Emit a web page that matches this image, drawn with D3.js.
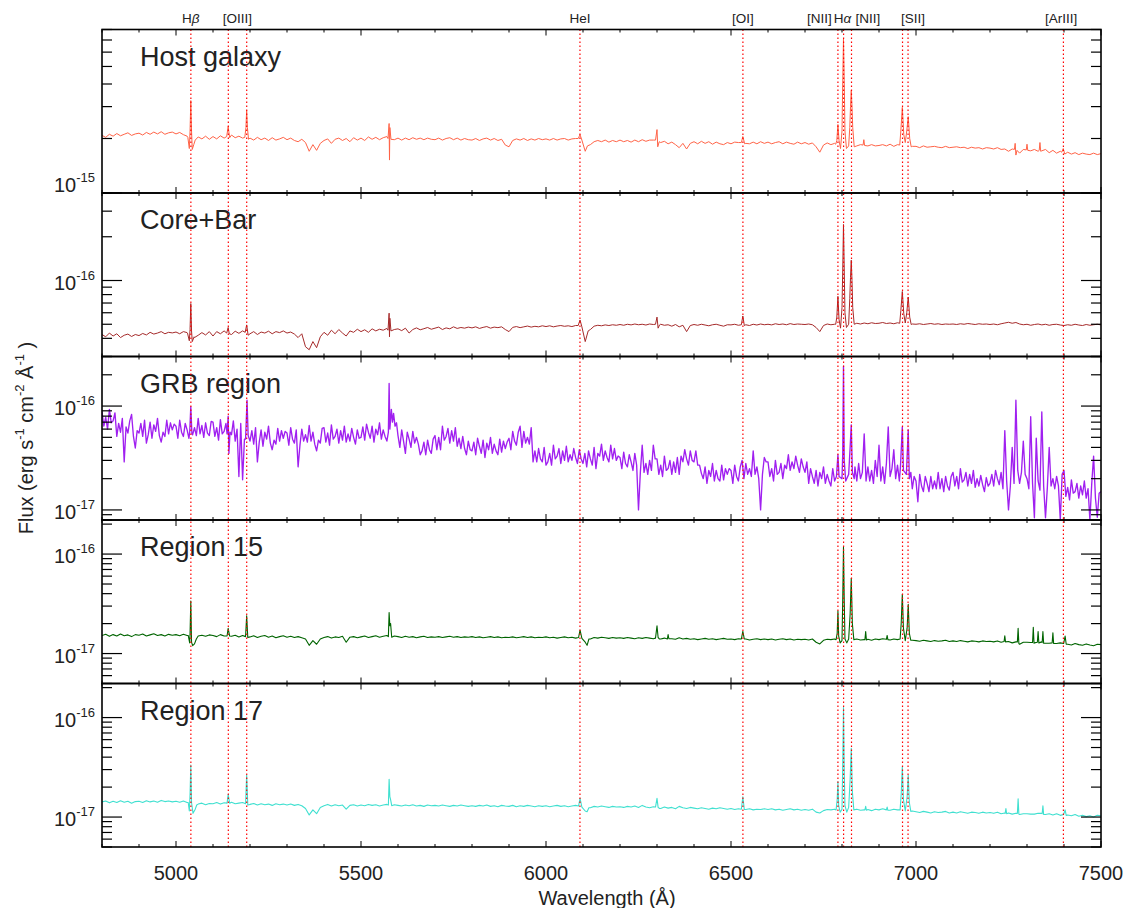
<!DOCTYPE html>
<html><head><meta charset="utf-8">
<script src="https://cdn.jsdelivr.net/npm/d3@7"></script>
<style>
body{margin:0;background:#fff}
svg{display:block}
text{font-family:"Liberation Sans",Arial,Helvetica,sans-serif;fill:#222}
</style>
</head><body>
<svg id="chart" width="1126" height="908"></svg>
<script>
// ---------------- DATA ----------------
// Host galaxy, flux in 1e-15 erg/s/cm2/A, sampled every 10 A from 4800 A
const hostFlux = [
2.08,2.03,2.11,2.06,2.13,2.07,2.11,2.15,2.08,2.12, //4800
2.14,2.09,2.16,2.11,2.17,2.12,2.18,2.11,2.15,2.17, //4900
2.12,2.16,2.10,2.06,2.00,1.95,2.04,1.99,2.06,1.98, //5000
2.05,1.99,2.07,2.01,2.06,2.09,2.02,2.06,2.01,2.04, //5100
2.01,1.96,2.03,1.97,2.01,1.95,2.02,1.96,1.99,2.03, //5200
1.97,2.01,1.95,1.92,1.98,1.90,1.70,1.85,1.72,1.88, //5300
1.95,1.99,1.88,1.98,2.01,1.95,2.00,1.92,2.02,1.96, //5400
2.01,1.95,2.04,1.98,2.03,1.97,2.02,2.05,1.99,1.97, //5500
2.01,1.96,2.01,1.97,2.02,1.98,2.01,1.97,2.01,1.98, //5600
1.97,2.01,1.96,2.00,2.02,1.97,2.01,1.96,2.00,1.97, //5700
1.96,2.00,1.95,1.99,2.01,1.96,2.00,1.95,1.98,1.84, //5800
1.80,1.95,1.99,1.96,2.00,1.95,1.99,1.96,2.00,1.97, //5900
1.99,1.96,2.00,1.96,1.99,2.00,1.96,1.99,2.00,2.04, //6000
1.95,1.75,1.85,1.92,1.95,1.92,1.96,1.91,1.95,1.92, //6100
1.96,1.92,1.95,1.91,1.96,1.92,1.97,1.93,1.96,1.96, //6200
1.94,1.90,1.93,1.87,1.91,1.85,1.78,1.88,1.75,1.88, //6300
1.92,1.87,1.93,1.88,1.92,1.86,1.91,1.87,1.85,1.90, //6400
1.87,1.91,1.90,1.93,1.88,1.87,1.91,1.87,1.92,1.88, //6500
1.91,1.87,1.90,1.92,1.87,1.91,1.88,1.86,1.91,1.87, //6600
1.90,1.86,1.89,1.80,1.68,1.84,1.89,1.85,1.88,1.86, //6700
1.85,1.85,1.85,1.85,1.82,1.85,1.84,1.82,1.85,1.82, //6800
1.83,1.85,1.82,1.86,1.81,1.85,1.83,1.82,1.84,1.81, //6900
1.81,1.78,1.82,1.79,1.80,1.81,1.79,1.78,1.81,1.78, //7000
1.79,1.80,1.78,1.79,1.76,1.79,1.77,1.78,1.75,1.78, //7100
1.77,1.75,1.78,1.74,1.75,1.70,1.75,1.73,1.66,1.74, //7200
1.73,1.71,1.74,1.70,1.71,1.74,1.67,1.72,1.66,1.70, //7300
1.66,1.68,1.64,1.67,1.63,1.66,1.64,1.63,1.66,1.63, //7400
1.65];
const hostLines = [
[[5032,2.03],[5036,1.76],[5038,2.2],[5040,3.24],[5042,2.2],[5044,1.74],[5048,1.85],[5052,1.96]],
[[5137,2.05],[5141,2.33],[5145,2.02]],
[[5186,2.03],[5189,2.3],[5191,2.86],[5193,2.3],[5196,1.98]],
[[5573,2.00],[5576,2.42],[5577,1.52],[5578,2.30],[5581,1.98]],
[[6087,2.00],[6092,2.10],[6097,1.96],[6106,1.70],[6112,1.82]],
[[6296,1.96],[6300,2.24],[6302,1.80],[6306,1.92]],
[[6528,1.90],[6532,2.05],[6537,1.87]],
[[6783,1.86],[6786,1.95],[6789,2.39],[6792,1.95],[6796,1.76],[6800,2.2],[6802,4.2],[6804,7.08],[6806,4.2],[6808,2.2],[6812,1.76],[6818,1.82],[6821,2.3],[6823,3.0],[6825,3.69],[6827,3.0],[6829,2.3],[6833,1.80]],
[[6857,1.84],[6859,1.97],[6861,1.83]],
[[6956,1.84],[6959,2.2],[6963,2.97],[6967,2.1],[6971,1.9],[6975,2.2],[6979,2.64],[6983,2.0],[6987,1.80]],
[[7266,1.74],[7268,1.88],[7270,1.62],[7273,1.72]],
[[7298,1.73],[7300,1.86],[7302,1.72]],
[[7333,1.72],[7335,1.90],[7337,1.70]],
[[7394,1.68],[7398,1.76],[7402,1.64]]
];

// Core+Bar, flux in 1e-17, every 10 A
const coreFlux = [
4.25,4.10,4.35,4.15,4.30,4.05,4.20,4.28,4.12,4.25, //4800
4.18,4.32,4.22,4.40,4.28,4.35,4.45,4.30,4.40,4.36, //4900
4.42,4.30,4.45,4.38,4.30,4.05,4.20,4.38,4.22,4.45, //5000
4.15,4.45,4.30,4.50,4.38,4.25,4.48,4.33,4.50,4.40, //5100
4.30,4.45,4.25,4.42,4.35,4.48,4.30,4.45,4.38,4.50, //5200
4.35,4.42,4.28,4.05,4.30,3.50,3.34,3.80,3.45,4.10, //5300
4.40,4.20,4.55,4.30,4.60,4.35,4.15,4.50,4.40,4.62, //5400
4.45,4.58,4.40,4.65,4.50,4.62,4.55,4.68,4.50,4.60, //5500
4.65,4.52,4.70,4.35,4.60,4.72,4.58,4.66,4.75,4.62, //5600
4.70,4.78,4.60,4.72,4.65,4.80,4.68,4.75,4.70,4.78, //5700
4.72,4.80,4.68,4.76,4.82,4.70,4.78,4.74,4.80,4.60, //5800
4.45,4.76,4.82,4.74,4.80,4.86,4.78,4.84,4.80,4.88, //5900
4.82,4.88,4.80,4.86,4.90,4.84,4.88,4.82,4.90,4.95, //6000
4.90,4.00,4.60,4.85,4.92,4.88,4.95,4.90,4.96,4.92, //6100
4.98,4.92,5.00,4.95,5.02,4.96,5.00,4.94,5.02,4.98, //6200
4.98,5.00,4.92,4.96,4.85,4.98,4.80,4.92,4.45,4.90, //6300
4.98,4.92,5.00,4.94,4.88,4.96,5.00,4.92,4.85,4.96, //6400
4.95,5.00,4.92,5.02,4.96,4.90,5.00,4.94,5.02,4.96, //6500
5.00,4.95,5.04,4.98,5.02,4.96,5.05,4.98,5.02,5.00, //6600
4.98,5.02,4.96,4.75,4.45,4.90,5.02,4.96,5.00,4.95, //6700
5.00,5.00,5.00,5.00,5.08,5.02,5.10,5.04,5.12,5.06, //6800
5.08,5.14,5.06,5.10,5.04,5.12,5.08,5.05,5.10,5.02, //6900
5.00,5.04,4.98,5.02,5.06,5.00,5.04,4.98,5.02,5.00, //7000
5.02,4.98,5.04,5.00,5.06,5.02,4.98,5.04,5.00,5.02, //7100
4.98,5.02,4.96,5.04,5.10,5.16,5.08,5.14,5.02,4.96, //7200
5.00,4.92,4.98,5.02,4.95,5.00,4.92,4.98,5.00,4.94, //7300
4.90,4.96,4.92,5.00,4.94,4.90,4.98,4.92,4.96,5.00, //7400
4.95];
const coreLines = [
[[5031,4.35],[5036,3.85],[5038,4.6],[5040,6.94],[5042,4.5],[5044,3.80],[5049,4.10]],
[[5137,4.35],[5141,4.75],[5144,4.30]],
[[5187,4.40],[5191,4.95],[5195,4.20]],
[[5573,4.55],[5576,5.96],[5577,4.10],[5578,5.50],[5581,4.50]],
[[6087,4.90],[6092,5.35],[6097,4.80],[6106,3.80],[6114,4.50]],
[[6296,5.00],[6300,5.60],[6303,4.70],[6307,4.95]],
[[6528,4.96],[6532,5.70],[6536,4.90]],
[[6783,5.0],[6786,5.6],[6789,7.78],[6792,5.4],[6796,4.7],[6800,6.5],[6802,12],[6804,24.3],[6806,12],[6808,6.0],[6812,4.75],[6818,5.0],[6821,7.5],[6823,10.5],[6825,13.8],[6827,10],[6829,6.5],[6833,5.0]],
[[6956,5.08],[6959,6.2],[6963,8.4],[6967,5.9],[6971,5.1],[6975,6.0],[6979,7.7],[6983,5.6],[6987,4.98]]
];

// GRB region, flux in 1e-17, every 5 A (noisy)
const grbFlux = [
8.8,6.4,7.8,6.0,9.3,6.9,7.2,8.6,5.1,6.8,5.6,7.6,2.9,6.3,5.5,7.2,8.3,5.1,3.95,5.8, //4800
5.5,6.8,5.1,7.3,4.4,5.3,7.0,4.9,6.6,5.7,7.6,5.2,4.5,5.6,5.1,7.3,5.4,6.9,5.9,6.7, //4900
6.4,4.9,7.3,5.6,5.1,6.8,5.9,4.9,6.2,5.3,6.2,5.2,7.6,5.4,6.5,5.0,6.9,5.5,5.2,7.1, //5000
7.0,5.1,6.2,4.7,7.4,5.4,5.7,6.8,4.9,6.5,5.3,7.2,4.6,6.0,2.1,6.8,1.95,4.8,6.6,5.5, //5100
4.6,5.8,4.3,6.2,2.9,4.5,5.9,4.1,5.6,4.8,6.4,4.4,3.8,4.7,4.3,6.1,4.6,5.8,4.9,5.7, //5200
5.5,4.2,6.2,4.8,4.4,5.9,2.6,4.2,6.0,4.6,5.3,4.5,6.5,4.6,5.6,4.3,3.7,4.7,4.4,6.1, //5300
6.2,4.5,5.5,4.2,6.6,4.8,5.1,6.0,4.4,5.8,4.7,6.4,4.5,5.4,4.6,6.1,5.0,4.3,5.9,4.9, //5400
5.0,6.3,4.7,6.7,5.6,4.9,6.4,4.5,6.0,5.3,6.9,4.8,5.9,5.1,4.6,6.3,5.9,6.4,6.6,7.2, //5500
5.2,4.0,5.9,4.6,3.5,5.6,4.8,4.0,5.7,4.4,5.0,4.3,3.4,3.7,4.5,3.4,4.7,3.8,3.5,4.8, //5600
5.2,3.8,5.0,3.8,6.4,4.7,5.1,6.1,4.4,5.8,4.6,6.2,4.1,4.9,3.9,5.1,3.9,3.4,4.6,3.8, //5700
3.7,4.5,3.4,4.9,4.1,3.5,4.7,3.2,4.4,3.8,5.0,3.5,4.3,3.7,3.4,4.8,3.6,4.6,3.9,4.5, //5800
4.9,3.8,5.7,4.6,4.2,5.6,6.4,4.0,5.7,4.4,5.0,4.3,6.2,2.9,3.7,2.9,3.9,3.1,2.9,4.0, //5900
2.7,2.9,3.5,2.7,4.2,3.1,3.3,3.9,2.8,3.7,3.0,4.1,2.9,3.4,3.0,3.9,3.2,2.8,3.8,3.1, //6000
2.8,3.5,2.6,3.7,3.1,2.7,4.0,2.5,3.5,3.3,4.3,3.0,3.7,3.2,2.9,4.2,3.1,3.9,3.0,3.3, //6100
3.2,2.5,3.6,2.8,2.6,3.4,2.9,2.4,3.5,2.7,1.0,2.3,4.2,2.3,2.8,2.2,3.0,2.4,4.2,3.1, //6200
3.1,2.2,2.7,2.1,3.3,2.4,2.5,3.0,2.2,2.9,2.3,3.2,2.2,3.3,2.9,3.8,3.1,2.7,3.7,3.0, //6300
2.9,3.7,2.7,2.7,2.25,2.0,2.6,1.8,2.4,2.1,2.8,1.9,2.4,2.0,1.9,2.7,1.95,2.5,2.2,2.5, //6400
2.4,1.8,2.7,2.1,1.9,2.6,3.0,2.0,2.8,2.2,2.5,2.1,3.7,2.2,2.6,2.0,1.0,2.2,3.2,2.9, //6500
2.9,2.1,2.5,1.9,3.0,2.2,2.3,2.8,2.0,2.7,2.5,3.4,2.4,2.9,2.5,3.3,2.7,2.3,3.1,2.6, //6600
2.3,2.9,1.8,2.5,2.1,1.8,2.4,1.7,2.3,2.0,2.6,1.8,2.2,1.9,1.7,2.5,1.9,2.4,2.0,2.3, //6700
2.2,2.2,2.2,2.2,2.2,2.2,2.2,2.6,1.9,2.8,2.0,2.3,5.4,1.9,2.6,1.9,2.4,1.8,3.0,2.1, //6800
4.2,1.9,2.6,1.8,2.8,6.3,2.1,2.5,3.8,2.0,2.7,1.9,2.9,2.4,2.4,2.1,2.1,2.5,1.6,2.1, //6900
1.9,1.2,2.2,1.7,1.5,2.1,1.8,1.5,2.1,1.6,1.9,1.6,2.3,1.6,2.0,1.5,2.1,1.7,1.55,2.1, //7000
2.3,1.7,2.1,1.6,2.5,1.85,1.95,2.3,1.7,2.2,1.8,2.4,1.65,2.0,1.7,2.15,1.75,1.5,2.05,1.7, //7100
1.8,2.2,1.7,2.4,2.0,1.75,2.3,1.6,5.8,1.9,1.0,1.7,4.0,1.8,11.4,2.4,1.8,2.3,4.6,2.2, //7200
2.0,1.6,7.9,1.8,0.84,4.9,1.9,1.55,8.8,1.7,0.84,1.65,4.0,1.7,2.0,1.6,2.1,1.7,0.8,2.2, //7300
2.4,1.35,1.65,1.25,1.95,1.45,1.5,1.8,1.3,1.7,1.4,1.9,1.3,1.6,0.8,1.8,3.3,1.3,0.85,1.45, //7400
1.5];
const grbLines = [
[[5037,5.6],[5040,9.85],[5043,5.4]],
[[5138,5.4],[5141,8.0],[5143,3.5],[5146,5.6]],
[[5188,4.8],[5192,11.4],[5195,5.2]],
[[5574,5.6],[5576,16.5],[5578,6.0],[5582,9.3],[5585,7.0],[5588,8.5],[5592,6.4],[5596,6.9]],
[[6785,2.1],[6789,3.4],[6792,2.1],[6800,2.0],[6802,3.5],[6804,24.2],[6806,3.0],[6810,1.9],[6818,2.2],[6822,4.0],[6825,6.6],[6828,2.3],[6833,2.0]],
[[6958,2.6],[6963,6.3],[6966,2.4],[6974,2.2],[6979,5.9],[6982,2.0],[6986,2.3]]
];

// Region 15, flux in 1e-17, every 10 A
const r15Flux = [
1.52,1.56,1.49,1.55,1.50,1.57,1.51,1.54,1.48,1.55, //4800
1.53,1.57,1.50,1.54,1.58,1.52,1.55,1.50,1.56,1.53, //4900
1.55,1.51,1.56,1.52,1.50,1.40,1.50,1.53,1.49,1.54, //5000
1.52,1.48,1.55,1.50,1.54,1.49,1.53,1.47,1.52,1.50, //5100
1.47,1.51,1.45,1.49,1.52,1.46,1.50,1.44,1.48,1.51, //5200
1.46,1.49,1.45,1.48,1.44,1.40,1.21,1.35,1.24,1.40, //5300
1.45,1.48,1.43,1.47,1.45,1.49,1.30,1.46,1.48,1.44, //5400
1.47,1.50,1.45,1.48,1.51,1.46,1.49,1.52,1.47,1.50, //5500
1.48,1.45,1.49,1.46,1.48,1.44,1.47,1.49,1.45,1.47, //5600
1.46,1.48,1.45,1.47,1.49,1.46,1.48,1.45,1.47,1.46, //5700
1.48,1.45,1.47,1.44,1.46,1.48,1.45,1.47,1.44,1.46, //5800
1.45,1.47,1.44,1.46,1.48,1.45,1.47,1.44,1.46,1.45, //5900
1.47,1.44,1.46,1.43,1.45,1.47,1.44,1.46,1.43,1.46, //6000
1.44,1.21,1.40,1.45,1.43,1.46,1.44,1.42,1.45,1.43, //6100
1.44,1.42,1.45,1.43,1.41,1.44,1.42,1.45,1.43,1.41, //6200
1.42,1.40,1.43,1.42,1.41,1.39,1.44,1.40,1.42,1.39, //6300
1.41,1.38,1.40,1.42,1.39,1.41,1.38,1.40,1.42,1.39, //6400
1.40,1.38,1.41,1.39,1.40,1.37,1.39,1.41,1.38,1.40, //6500
1.38,1.40,1.37,1.39,1.41,1.38,1.40,1.37,1.39,1.38, //6600
1.39,1.37,1.40,1.30,1.25,1.36,1.39,1.38,1.40,1.38, //6700
1.38,1.38,1.38,1.38,1.40,1.37,1.38,1.39,1.36,1.40, //6800
1.38,1.41,1.38,1.37,1.40,1.38,1.40,1.37,1.39,1.36, //6900
1.35,1.33,1.36,1.34,1.32,1.35,1.33,1.34,1.36,1.32, //7000
1.34,1.32,1.35,1.33,1.31,1.34,1.33,1.31,1.34,1.32, //7100
1.33,1.31,1.34,1.30,1.33,1.32,1.28,1.31,1.24,1.30, //7200
1.30,1.29,1.28,1.30,1.31,1.27,1.27,1.29,1.26,1.28, //7300
1.27,1.24,1.22,1.26,1.23,1.21,1.25,1.22,1.20,1.24, //7400
1.23];
const r15Lines = [
[[5033,1.52],[5037,1.28],[5038,1.6],[5040,3.37],[5042,1.3],[5045,1.2],[5050,1.25],[5055,1.4]],
[[5138,1.50],[5141,1.79],[5145,1.50]],
[[5188,1.48],[5191,2.40],[5194,1.45]],
[[5574,1.48],[5576,2.59],[5578,1.90],[5580,2.00],[5583,1.46]],
[[6088,1.45],[6092,1.72],[6097,1.42],[6106,1.30],[6111,1.21],[6116,1.40]],
[[6296,1.43],[6300,1.90],[6303,1.45],[6307,1.40]],
[[6328,1.40],[6330,1.55],[6332,1.41]],
[[6528,1.40],[6532,1.67],[6536,1.40]],
[[6784,1.38],[6787,1.6],[6789,2.68],[6791,1.5],[6795,1.28],[6800,1.35],[6802,3.5],[6804,11.7],[6806,3.5],[6808,1.4],[6813,1.28],[6818,1.4],[6822,2.5],[6825,5.72],[6828,2.0],[6832,1.38]],
[[6862,1.38],[6864,1.66],[6866,1.37]],
[[6920,1.39],[6922,1.52],[6924,1.38]],
[[6957,1.40],[6960,2.0],[6963,3.94],[6966,1.8],[6971,1.35],[6976,1.8],[6979,3.13],[6982,1.6],[6986,1.36]],
[[7238,1.32],[7240,1.51],[7242,1.31]],
[[7274,1.31],[7276,1.79],[7278,1.26]],
[[7315,1.29],[7317,1.84],[7319,1.27]],
[[7328,1.30],[7330,1.66],[7332,1.28]],
[[7341,1.29],[7343,1.66],[7345,1.27]],
[[7368,1.28],[7370,1.62],[7372,1.26]],
[[7399,1.26],[7403,1.50],[7406,1.24]]
];

// Region 17, flux in 1e-17, every 10 A
const r17Flux = [
1.42,1.45,1.39,1.44,1.40,1.46,1.41,1.44,1.38,1.43, //4800
1.44,1.40,1.46,1.42,1.45,1.41,1.47,1.43,1.45,1.42, //4900
1.44,1.41,1.45,1.40,1.40,1.25,1.35,1.38,1.33,1.37, //5000
1.36,1.40,1.35,1.39,1.37,1.41,1.36,1.38,1.40,1.37, //5100
1.34,1.37,1.32,1.36,1.33,1.35,1.31,1.36,1.33,1.35, //5200
1.32,1.35,1.31,1.34,1.30,1.22,1.05,1.18,1.08,1.25, //5300
1.30,1.34,1.29,1.33,1.30,1.32,1.20,1.31,1.33,1.29, //5400
1.32,1.30,1.34,1.31,1.33,1.29,1.32,1.34,1.30,1.33, //5500
1.31,1.29,1.32,1.30,1.33,1.29,1.31,1.28,1.32,1.30, //5600
1.31,1.29,1.32,1.30,1.28,1.31,1.29,1.32,1.30,1.28, //5700
1.30,1.28,1.31,1.29,1.32,1.28,1.30,1.27,1.31,1.29, //5800
1.28,1.31,1.27,1.30,1.28,1.31,1.29,1.27,1.30,1.28, //5900
1.30,1.27,1.29,1.31,1.28,1.30,1.27,1.29,1.31,1.28, //6000
1.27,1.12,1.24,1.28,1.26,1.29,1.27,1.25,1.28,1.26, //6100
1.27,1.25,1.28,1.26,1.29,1.25,1.31,1.26,1.24,1.27, //6200
1.25,1.22,1.26,1.23,1.25,1.21,1.28,1.24,1.22,1.25, //6300
1.23,1.21,1.24,1.22,1.20,1.23,1.21,1.24,1.22,1.20, //6400
1.22,1.19,1.21,1.20,1.19,1.21,1.18,1.20,1.19,1.21, //6500
1.19,1.21,1.18,1.20,1.17,1.19,1.21,1.18,1.20,1.17, //6600
1.19,1.17,1.20,1.12,1.10,1.16,1.19,1.18,1.20,1.17, //6700
1.18,1.18,1.18,1.18,1.20,1.17,1.18,1.19,1.16,1.20, //6800
1.18,1.21,1.18,1.17,1.20,1.18,1.18,1.18,1.18,1.15, //6900
1.13,1.11,1.14,1.12,1.10,1.13,1.11,1.12,1.14,1.10, //7000
1.12,1.10,1.13,1.11,1.09,1.12,1.11,1.09,1.12,1.10, //7100
1.11,1.09,1.12,1.08,1.10,1.10,1.07,1.09,1.06,1.08, //7200
1.08,1.07,1.07,1.09,1.09,1.06,1.08,1.05,1.08,1.04, //7300
1.06,1.05,1.03,1.06,1.02,1.04,1.01,1.03,1.00,1.04, //7400
1.03];
const r17Lines = [
[[5033,1.40],[5036,1.15],[5038,1.7],[5040,3.34],[5042,1.4],[5046,1.09],[5052,1.2],[5056,1.32]],
[[5138,1.38],[5141,1.69],[5145,1.38]],
[[5188,1.36],[5191,2.65],[5194,1.32]],
[[5574,1.32],[5576,2.40],[5578,1.60],[5580,1.50],[5583,1.30]],
[[6088,1.29],[6092,1.54],[6097,1.26],[6106,1.15],[6111,1.13],[6116,1.24]],
[[6296,1.26],[6300,1.54],[6303,1.25],[6307,1.22]],
[[6528,1.20],[6532,1.60],[6536,1.19]],
[[6784,1.18],[6787,1.5],[6789,2.27],[6791,1.3],[6795,1.12],[6800,1.2],[6802,3.5],[6804,12.6],[6806,3.0],[6808,1.3],[6813,1.12],[6818,1.25],[6822,2.4],[6825,4.9],[6828,1.8],[6832,1.18]],
[[6862,1.18],[6864,1.28],[6866,1.17]],
[[6920,1.18],[6922,1.26],[6924,1.17]],
[[6957,1.18],[6960,1.7],[6963,3.2],[6966,1.5],[6971,1.15],[6976,1.6],[6979,2.65],[6982,1.4],[6986,1.14]],
[[7241,1.09],[7243,1.22],[7245,1.08]],
[[7274,1.09],[7276,1.53],[7278,1.07]],
[[7341,1.08],[7343,1.30],[7345,1.06]],
[[7399,1.06],[7403,1.18],[7406,1.04]]
];

// emission line markers (observed wavelengths) and their labels
const markerWaves = [5040.2, 5141.4, 5191.1, 6091.8, 6532.2, 6789.0, 6804.3, 6825.7, 6963.6, 6978.5, 7398.4];
const lineLabels = [
  {text:"H", greek:"\u03B2", w:5040},
  {text:"[OIII]", w:5166},
  {text:"HeI", w:6092},
  {text:"[OI]", w:6532},
  {text:"[NII]", w:6739},
  {text:"H", greek:"\u03B1", w:6801},
  {text:"[NII]", w:6870},
  {text:"[SII]", w:6992},
  {text:"[ArIII]", w:7392}
];
const xTickLabels = [5000, 5500, 6000, 6500, 7000, 7500];

const panelNames = ["Host galaxy", "Core+Bar", "GRB region", "Region 15", "Region 17"];
const panelFlux = [hostFlux, coreFlux, grbFlux, r15Flux, r17Flux];
const panelLines = [hostLines, coreLines, grbLines, r15Lines, r17Lines];
const panelSteps = [10, 10, 5, 10, 10];
const panelUnits = [1e-15, 1e-17, 1e-17, 1e-17, 1e-17];
const panelDomains = [[1e-15, 8e-15], [3e-17, 4e-16], [8e-18, 3e-16], [5e-18, 2.2e-16], [5e-18, 2.2e-16]];
const panelColors = ["#ff6347", "#a52a2a", "#a020f0", "#006400", "#40e0d0"];
const panelStroke = [1, 1, 1.35, 1.1, 1.1];

// ---------------- LAYOUT ----------------
const L = 102, R = 1101, TOP = 29.5, PH = 163.5;
const BOTTOM = TOP + 5 * PH;
const svg = d3.select("#chart");
const x = d3.scaleLinear().domain([4800, 7500]).range([L, R]);

function buildSeries(flux, groups, unit, step) {
  const waves = d3.range(4800, 7501, step);
  const windows = groups.map(g => [g[0][0], g[g.length - 1][0]]);
  const pts = [];
  waves.forEach((w, i) => {
    if (i >= flux.length) return;
    if (windows.some(([a, b]) => w >= a && w <= b)) return;
    pts.push([w, flux[i] * unit]);
  });
  groups.forEach(g => g.forEach(p => pts.push([p[0], p[1] * unit])));
  pts.sort((a, b) => a[0] - b[0]);
  return pts;
}

const defs = svg.append("defs");

panelNames.forEach((name, i) => {
  const top = TOP + i * PH, bot = top + PH;
  const y = d3.scaleLog().domain(panelDomains[i]).range([bot, top]);
  const g = svg.append("g");

  defs.append("clipPath").attr("id", "clip" + i)
    .append("rect").attr("x", L).attr("y", top).attr("width", R - L).attr("height", PH);

  const data = buildSeries(panelFlux[i], panelLines[i], panelUnits[i], panelSteps[i]);
  const line = d3.line().x(d => x(d[0])).y(d => y(d[1]));
  g.append("path").datum(data)
    .attr("clip-path", "url(#clip" + i + ")")
    .attr("fill", "none").attr("stroke", panelColors[i])
    .attr("stroke-width", panelStroke[i])
    .attr("stroke-linejoin", "round")
    .attr("d", line);

  // y ticks (log, minor 2..9)
  const [lo, hi] = panelDomains[i];
  const ticks = [];
  for (let e = Math.floor(Math.log10(lo)); e <= Math.ceil(Math.log10(hi)); e++) {
    for (let m = 1; m <= 9; m++) {
      const v = m * Math.pow(10, e);
      if (v >= lo * 0.999 && v <= hi * 1.001) ticks.push({v, major: m === 1, e});
    }
  }
  ticks.forEach(t => {
    const yy = y(t.v);
    const len = t.major ? 20 : 10;
    g.append("line").attr("x1", L).attr("x2", L + len).attr("y1", yy).attr("y2", yy)
      .attr("stroke", "#000").attr("stroke-width", 1.2);
    g.append("line").attr("x1", R).attr("x2", R - len).attr("y1", yy).attr("y2", yy)
      .attr("stroke", "#000").attr("stroke-width", 1.2);
    if (t.major) {
      const by = (yy > bot - 3) ? yy - 1 : yy + 9;
      const tx = g.append("text").attr("x", L - 7).attr("y", by)
        .attr("text-anchor", "end").attr("font-size", 20);
      tx.append("tspan").text("10");
      tx.append("tspan").attr("font-size", 13).attr("dy", -10).text(String(t.e));
    }
  });

  // x ticks at top & bottom of each panel
  d3.range(4800, 7501, 100).forEach(w => {
    const major = w % 500 === 0;
    const len = major ? 6 : 3;
    const xx = x(w);
    g.append("line").attr("x1", xx).attr("x2", xx).attr("y1", top).attr("y2", top + len)
      .attr("stroke", "#000").attr("stroke-width", 1);
    g.append("line").attr("x1", xx).attr("x2", xx).attr("y1", bot).attr("y2", bot - len)
      .attr("stroke", "#000").attr("stroke-width", 1);
  });

  g.append("text").attr("x", 140).attr("y", top + 36)
    .attr("font-size", 27).text(name);
});

// dotted emission-line markers
svg.append("g").selectAll("line").data(markerWaves).join("line")
  .attr("x1", d => x(d)).attr("x2", d => x(d))
  .attr("y1", TOP).attr("y2", BOTTOM)
  .attr("stroke", "#ff0000").attr("stroke-width", 1.2)
  .attr("stroke-dasharray", "1.5,2.5");

// frames
panelNames.forEach((n, i) => {
  svg.append("rect").attr("x", L).attr("y", TOP + i * PH).attr("width", R - L).attr("height", PH)
    .attr("fill", "none").attr("stroke", "#000").attr("stroke-width", 1.6);
});

// line labels
lineLabels.forEach(lb => {
  const t = svg.append("text").attr("x", x(lb.w)).attr("y", 22.5)
    .attr("text-anchor", "middle").attr("font-size", 13.5);
  t.append("tspan").text(lb.text);
  if (lb.greek) t.append("tspan").attr("font-style", "italic").text(lb.greek);
});

// x tick labels
svg.append("g").selectAll("text").data(xTickLabels).join("text")
  .attr("x", d => x(d)).attr("y", 880).attr("text-anchor", "middle")
  .attr("font-size", 20).text(d => d);

// axis titles
svg.append("text").attr("x", 607).attr("y", 905).attr("text-anchor", "middle")
  .attr("font-size", 20).text("Wavelength (\u00C5)");

const yt = svg.append("text").attr("transform", "translate(33,438) rotate(-90)")
  .attr("text-anchor", "middle").attr("font-size", 20);
yt.append("tspan").text("Flux (erg s");
yt.append("tspan").attr("font-size", 13).attr("dy", -9).text("-1");
yt.append("tspan").attr("dy", 9).text(" cm");
yt.append("tspan").attr("font-size", 13).attr("dy", -9).text("-2");
yt.append("tspan").attr("dy", 9).text(" \u00C5");
yt.append("tspan").attr("font-size", 13).attr("dy", -9).text("-1");
yt.append("tspan").attr("dy", 9).text(" )");
</script>
</body></html>
